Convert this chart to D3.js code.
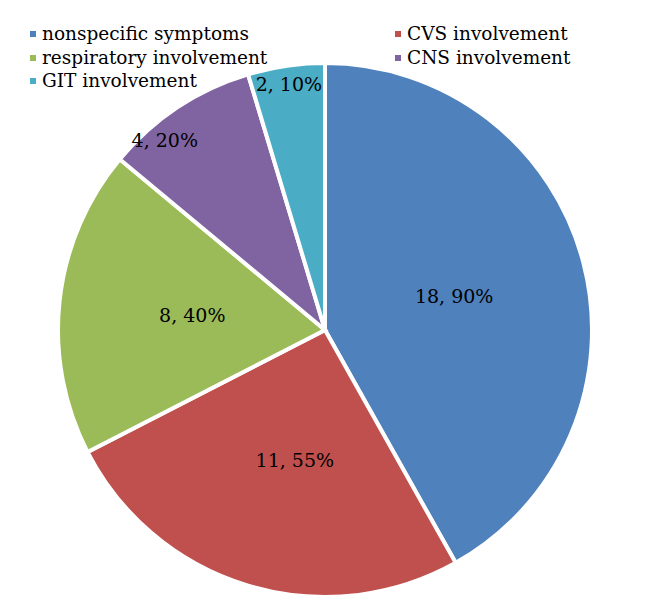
<!DOCTYPE html>
<html>
<head>
<meta charset="utf-8">
<script src="https://cdn.jsdelivr.net/npm/d3@7"></script>
<style>
  body { margin: 0; background: #fff; }
  text { font-family: "DejaVu Serif", serif; }
</style>
</head>
<body>
<div id="chart"></div>
<script>
const categories = ["nonspecific symptoms", "CVS involvement", "respiratory involvement", "CNS involvement", "GIT involvement"];
const counts = [18, 11, 8, 4, 2];
const percents = ["90%", "55%", "40%", "20%", "10%"];
const colors = ["#4F81BD", "#C0504D", "#9BBB59", "#8064A2", "#4BACC6"];

const width = 649, height = 603;
const cx = 325, cy = 330, radius = 267;

const data = categories.map((c, i) => ({ name: c, value: counts[i], pct: percents[i], color: colors[i] }));

const svg = d3.select("#chart")
  .append("svg")
  .attr("width", width)
  .attr("height", height);

const pie = d3.pie().value(d => d.value).sort(null);
const arcs = pie(data);
const total = d3.sum(counts);

const arc = d3.arc().innerRadius(0).outerRadius(radius);

const g = svg.append("g").attr("transform", `translate(${cx},${cy})`);

g.selectAll("path")
  .data(arcs)
  .enter()
  .append("path")
  .attr("d", arc)
  .attr("fill", d => d.data.color)
  .attr("stroke", "#fff")
  .attr("stroke-width", 4)
  .attr("stroke-linejoin", "miter");

// label placement: big slices in the middle, small ones near the rim
const labelPos = d => {
  const share = d.data.value / total;
  const r = share < 0.1 ? radius * 0.93 : radius * 0.5;
  const f = d.index === 3 ? 0.3 : d.index === 1 ? 0.46 : 0.5;
  const a = d.startAngle + f * (d.endAngle - d.startAngle);
  return [r * Math.sin(a), -r * Math.cos(a)];
};

g.selectAll("text.lbl")
  .data(arcs)
  .enter()
  .append("text")
  .attr("class", "lbl")
  .attr("transform", d => `translate(${labelPos(d)})`)
  .attr("text-anchor", "middle")
  .attr("dy", "0.35em")
  .attr("font-size", 19)
  .attr("fill", "#000")
  .text(d => `${d.data.value}, ${d.data.pct}`);

// legend, two columns
const legend = svg.append("g");
const colX = [30, 395], rowY = [34, 58, 81];
const items = legend.selectAll("g")
  .data(data)
  .enter()
  .append("g")
  .attr("transform", (d, i) => `translate(${colX[i % 2]},${rowY[Math.floor(i / 2)]})`);

items.append("rect")
  .attr("x", 0).attr("y", -3)
  .attr("width", 6).attr("height", 6)
  .attr("fill", d => d.color);

items.append("text")
  .attr("x", 12)
  .attr("dy", "0.35em")
  .attr("font-size", 18.5)
  .attr("fill", "#000")
  .text(d => d.name);
</script>
</body>
</html>
